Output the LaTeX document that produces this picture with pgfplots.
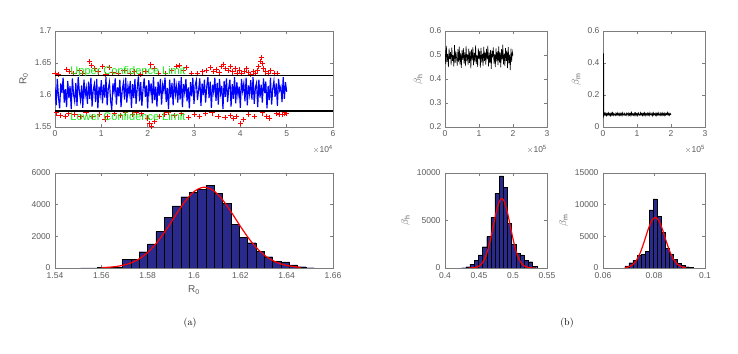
\documentclass[border=0pt]{standalone}
\usepackage{fontspec}
\usepackage{pgfplots}
\pgfplotsset{compat=1.18}
\newfontfamily\arial{Liberation Sans}
\definecolor{barblue}{RGB}{42,42,140}
\definecolor{mgreen}{RGB}{20,235,20}
\definecolor{axgray}{RGB}{125,125,125}
\definecolor{txtgray}{RGB}{90,90,90}
\definecolor{mred}{RGB}{255,0,0}
\pgfplotsset{mat/.style={scale only axis, anchor=south west, clip mode=individual,
  axis line style={axgray, line width=0.5pt}, tick style={axgray, line width=0.5pt},
  major tick length=3pt, tick align=inside,
  tick label style={font=\arial\fontsize{8.5}{9}\selectfont, text=txtgray},
  label style={font=\arial\fontsize{10}{11}\selectfont, text=txtgray},
  scaled ticks=false, /pgf/number format/1000 sep={},
  /pgf/number format/fixed, /pgf/number format/precision=3,
  /pgf/number format/assume math mode=true},
  hist/.style={xticklabel style={yshift=-1.5pt}, yticklabel style={xshift=-1pt}}}
\begin{document}
\begin{tikzpicture}
\useasboundingbox (0,0) rectangle (738pt,353pt);
% ---------- R0 trace
\begin{axis}[mat, at={(55pt,226pt)}, width=278pt, height=96pt,
  xmin=0, xmax=60000, ymin=1.55, ymax=1.7,
  xtick={0,10000,20000,30000,40000,50000,60000}, xticklabels={0,1,2,3,4,5,6},
  ytick={1.55,1.6,1.65,1.7}, ylabel={R\textsubscript{0}}]
\addplot[blue, line width=1.15pt] coordinates {
(0,1.612)(250,1.584)(500,1.625)(750,1.597)(1000,1.579)(1250,1.618)(1500,1.603)(1750,1.627)(2000,1.588)(2250,1.609)
(2500,1.581)(2750,1.622)(3000,1.595)(3250,1.614)(3500,1.578)(3750,1.626)(4000,1.601)(4250,1.590)(4500,1.619)(4750,1.583)
(5000,1.628)(5250,1.606)(5500,1.592)(5750,1.615)(6000,1.580)(6250,1.624)(6500,1.599)(6750,1.611)(7000,1.586)(7250,1.621)
(7500,1.594)(7750,1.627)(8000,1.582)(8250,1.608)(8500,1.617)(8750,1.589)(9000,1.625)(9250,1.579)(9500,1.613)(9750,1.600)
(10000,1.623)(10250,1.587)(10500,1.616)(10750,1.596)(11000,1.628)(11250,1.584)(11500,1.610)(11750,1.620)(12000,1.591)(12250,1.577)
(12500,1.618)(12750,1.605)(13000,1.626)(13250,1.585)(13500,1.612)(13750,1.598)(14000,1.624)(14250,1.581)(14500,1.607)(14750,1.619)
(15000,1.593)(15250,1.627)(15500,1.588)(15750,1.614)(16000,1.602)(16250,1.622)(16500,1.580)(16750,1.617)(17000,1.595)(17250,1.625)
(17500,1.586)(17750,1.611)(18000,1.629)(18250,1.590)(18500,1.620)(18750,1.583)(19000,1.609)(19250,1.626)(19500,1.597)(19750,1.615)
(20000,1.579)(20250,1.623)(20500,1.604)(20750,1.618)(21000,1.587)(21250,1.628)(21500,1.592)(21750,1.613)(22000,1.582)(22250,1.621)
(22500,1.599)(22750,1.625)(23000,1.585)(23250,1.616)(23500,1.606)(23750,1.627)(24000,1.589)(24250,1.611)(24500,1.578)(24750,1.624)
(25000,1.596)(25250,1.619)(25500,1.584)(25750,1.626)(26000,1.601)(26250,1.614)(26500,1.588)(26750,1.622)(27000,1.593)(27250,1.628)
(27500,1.581)(27750,1.617)(28000,1.603)(28250,1.625)(28500,1.590)(28750,1.612)(29000,1.579)(29250,1.620)(29500,1.598)(29750,1.627)
(30000,1.586)(30250,1.615)(30500,1.623)(30750,1.592)(31000,1.608)(31250,1.626)(31500,1.583)(31750,1.618)(32000,1.600)(32250,1.624)
(32500,1.588)(32750,1.613)(33000,1.628)(33250,1.595)(33500,1.621)(33750,1.580)(34000,1.616)(34250,1.604)(34500,1.627)(34750,1.591)
(35000,1.619)(35250,1.585)(35500,1.625)(35750,1.602)(36000,1.614)(36250,1.578)(36500,1.622)(36750,1.597)(37000,1.626)(37250,1.589)
(37500,1.611)(37750,1.624)(38000,1.582)(38250,1.617)(38500,1.594)(38750,1.628)(39000,1.587)(39250,1.620)(39500,1.599)(39750,1.613)
(40000,1.580)(40250,1.625)(40500,1.606)(40750,1.618)(41000,1.590)(41250,1.627)(41500,1.584)(41750,1.615)(42000,1.601)(42250,1.623)
(42500,1.593)(42750,1.628)(43000,1.586)(43250,1.612)(43500,1.619)(43750,1.581)(44000,1.624)(44250,1.596)(44500,1.616)(44750,1.588)
(45000,1.626)(45250,1.603)(45500,1.621)(45750,1.579)(46000,1.614)(46250,1.592)(46500,1.627)(46750,1.585)(47000,1.610)(47250,1.622)
(47500,1.597)(47750,1.618)(48000,1.583)(48250,1.625)(48500,1.607)(48750,1.613)(49000,1.589)(49250,1.628)(49500,1.594)(49750,1.620)
(50000,1.605)};
\addplot[mred, only marks, mark=+, mark size=2.6pt, line width=1pt, mark options={draw=mred, solid}] coordinates {
(0,1.633)(800,1.632)(2500,1.640)(3200,1.637)(4100,1.634)(5300,1.638)(6000,1.633)(7400,1.652)(7900,1.646)(8500,1.641)
(9300,1.636)(10200,1.645)(11000,1.632)(11800,1.643)(12500,1.635)(13700,1.634)(14900,1.638)(16200,1.633)(17100,1.636)(18500,1.632)
(19600,1.637)(20700,1.647)(21400,1.641)(22300,1.634)(23900,1.633)(25100,1.638)(26200,1.644)(26900,1.646)(27800,1.639)(28300,1.643)
(29500,1.634)(30700,1.633)(31800,1.636)(32700,1.638)(33500,1.643)(34200,1.637)(34800,1.640)(35400,1.635)(35900,1.645)(36400,1.648)
(36900,1.641)(37400,1.638)(37900,1.644)(38400,1.636)(38900,1.642)(39300,1.634)(39800,1.639)(40300,1.633)(40800,1.637)(41300,1.641)
(41800,1.635)(42300,1.632)(42800,1.636)(43300,1.634)(43700,1.638)(44000,1.645)(44300,1.652)(44500,1.658)(44700,1.649)(45000,1.641)
(45500,1.636)(46000,1.633)(46600,1.638)(47300,1.634)(48000,1.633)
(300,1.572)(1100,1.568)(2200,1.566)(3000,1.571)(4300,1.569)(5600,1.567)(6700,1.572)(8200,1.566)(9600,1.570)(10800,1.562)
(11300,1.566)(12800,1.571)(14100,1.568)(15300,1.572)(16800,1.569)(17500,1.573)(18700,1.571)(19900,1.564)(20500,1.555)(20900,1.551)
(21500,1.559)(22600,1.567)(23600,1.570)(24400,1.573)(25700,1.568)(27300,1.571)(28800,1.565)(30100,1.570)(31200,1.566)(32500,1.571)
(33900,1.572)(35200,1.567)(36700,1.565)(37800,1.568)(38600,1.563)(39200,1.567)(40100,1.556)(40600,1.562)(41700,1.569)(43100,1.566)
(44800,1.572)(45600,1.566)(46300,1.564)(47800,1.571)(48500,1.569)(49200,1.570)(49600,1.572)(50000,1.571)};
\addplot[black, line width=1.3pt] coordinates {(0,1.63)(60000,1.63)};
\addplot[black, line width=1.3pt] coordinates {(0,1.575)(60000,1.575)};
\node[anchor=west, text=mgreen, font=\arial\fontsize{11}{12}\selectfont, inner sep=0pt] at (axis cs:3300,1.6364) {Upper Confidence Limit};
\node[anchor=west, text=mgreen, font=\arial\fontsize{11}{12}\selectfont, inner sep=0pt] at (axis cs:3300,1.5665) {Lower Confidence Limit};
\node[anchor=north east, text=txtgray, font=\arial\fontsize{8.5}{9}\selectfont, inner sep=0pt, yshift=-18pt] at (rel axis cs:1,0) {$\times$10\textsuperscript{4}};
\end{axis}
% ---------- R0 histogram
\begin{axis}[mat, hist, at={(55pt,85pt)}, width=278pt, height=95pt,
  xmin=1.54, xmax=1.66, ymin=0, ymax=6000,
  xtick={1.54,1.56,1.58,1.6,1.62,1.64,1.66}, ytick={0,2000,4000,6000},
  xlabel={R\textsubscript{0}}]
\addplot[ybar interval, fill=barblue, draw=black, line width=0.3pt] coordinates {
(1.5511,10)(1.5547,15)(1.5583,50)(1.5619,40)(1.5655,60)(1.5691,550)(1.5727,560)(1.5763,1030)(1.5799,1520)(1.5835,2320)
(1.5871,3180)(1.5907,3920)(1.5943,4500)(1.5979,4760)(1.6015,4970)(1.6051,5240)(1.6087,4720)(1.6123,4080)(1.6159,2760)(1.6195,1920)
(1.6231,1600)(1.6267,1070)(1.6303,715)(1.6339,440)(1.6375,380)(1.6411,190)(1.6447,80)(1.6483,20)(1.6519,0)};
\addplot[red, line width=1.2pt, smooth] coordinates {
(1.560,22)(1.564,57)(1.568,132)(1.572,281)(1.576,549)(1.580,983)(1.584,1610)(1.588,2416)(1.592,3322)(1.596,4183)
(1.600,4824)(1.604,5099)(1.608,4931)(1.612,4370)(1.616,3548)(1.620,2638)(1.624,1797)(1.628,1121)(1.632,640)(1.636,335)
(1.640,161)(1.644,71)(1.646,45)};
\end{axis}
% ---------- beta_h trace
\begin{axis}[mat, at={(445pt,226pt)}, width=102pt, height=96pt,
  xmin=0, xmax=300000, ymin=0.2, ymax=0.6,
  xtick={0,100000,200000,300000}, xticklabels={0,1,2,3},
  ytick={0.2,0.3,0.4,0.5,0.6}, ylabel={$\beta$\textsubscript{h}}]
\addplot[black, line width=0.6pt] coordinates {
(0,0.520)(2000,0.462)(4000,0.538)(6000,0.471)(8000,0.505)(10000,0.449)(12000,0.527)(14000,0.483)(16000,0.512)(18000,0.458)
(20000,0.531)(22000,0.476)(24000,0.499)(26000,0.452)(28000,0.541)(30000,0.468)(32000,0.515)(34000,0.487)(36000,0.456)(38000,0.524)
(40000,0.470)(42000,0.535)(44000,0.461)(46000,0.508)(48000,0.446)(50000,0.519)(52000,0.480)(54000,0.529)(56000,0.465)(58000,0.511)
(60000,0.454)(62000,0.537)(64000,0.474)(66000,0.502)(68000,0.459)(70000,0.526)(72000,0.467)(74000,0.516)(76000,0.444)(78000,0.522)
(80000,0.478)(82000,0.533)(84000,0.457)(86000,0.509)(88000,0.472)(90000,0.540)(92000,0.463)(94000,0.498)(96000,0.451)(98000,0.528)
(100000,0.485)(102000,0.517)(104000,0.447)(106000,0.530)(108000,0.469)(110000,0.506)(112000,0.455)(114000,0.534)(116000,0.475)(118000,0.513)
(120000,0.460)(122000,0.525)(124000,0.482)(126000,0.539)(128000,0.453)(130000,0.510)(132000,0.466)(134000,0.521)(136000,0.442)(138000,0.518)
(140000,0.489)(142000,0.532)(144000,0.464)(146000,0.504)(148000,0.450)(150000,0.527)(152000,0.473)(154000,0.515)(156000,0.458)(158000,0.536)
(160000,0.468)(162000,0.511)(164000,0.448)(166000,0.524)(168000,0.479)(170000,0.543)(172000,0.461)(174000,0.507)(176000,0.454)(178000,0.529)
(180000,0.476)(182000,0.519)(184000,0.445)(186000,0.533)(188000,0.466)(190000,0.501)(192000,0.437)(194000,0.526)(196000,0.471)(198000,0.514)
(200000,0.498)};
\node[anchor=north east, text=txtgray, font=\arial\fontsize{8.5}{9}\selectfont, inner sep=0pt, yshift=-18pt] at (rel axis cs:1,0) {$\times$10\textsuperscript{5}};
\end{axis}
% ---------- beta_m trace
\begin{axis}[mat, at={(603pt,226pt)}, width=102pt, height=96pt,
  xmin=0, xmax=300000, ymin=0, ymax=0.6,
  xtick={0,100000,200000,300000}, xticklabels={0,1,2,3},
  ytick={0,0.2,0.4,0.6}, ylabel={$\beta$\textsubscript{m}}]
\addplot[black, line width=0.9pt] coordinates {
(1500,0.460)(2000,0.080)
(2000,0.073)(4000,0.086)(6000,0.075)(8000,0.085)(10000,0.072)(12000,0.084)(14000,0.076)(16000,0.087)(18000,0.074)(20000,0.083)
(22000,0.072)(24000,0.086)(26000,0.075)(28000,0.088)(30000,0.073)(32000,0.084)(34000,0.077)(36000,0.072)(38000,0.085)(40000,0.076)
(42000,0.087)(44000,0.074)(46000,0.083)(48000,0.073)(50000,0.086)(52000,0.075)(54000,0.084)(56000,0.072)(58000,0.088)(60000,0.077)
(62000,0.074)(64000,0.085)(66000,0.076)(68000,0.072)(70000,0.087)(72000,0.083)(74000,0.073)(76000,0.086)(78000,0.075)(80000,0.084)
(82000,0.072)(84000,0.089)(86000,0.076)(88000,0.082)(90000,0.074)(92000,0.085)(94000,0.073)(96000,0.087)(98000,0.075)(100000,0.083)
(102000,0.072)(104000,0.086)(106000,0.077)(108000,0.074)(110000,0.088)(112000,0.076)(114000,0.084)(116000,0.073)(118000,0.085)(120000,0.075)
(122000,0.087)(124000,0.072)(126000,0.083)(128000,0.076)(130000,0.086)(132000,0.074)(134000,0.084)(136000,0.073)(138000,0.088)(140000,0.077)
(142000,0.075)(144000,0.085)(146000,0.072)(148000,0.087)(150000,0.076)(152000,0.083)(154000,0.074)(156000,0.086)(158000,0.073)(160000,0.084)
(162000,0.075)(164000,0.088)(166000,0.077)(168000,0.072)(170000,0.085)(172000,0.076)(174000,0.087)(176000,0.074)(178000,0.083)(180000,0.073)
(182000,0.086)(184000,0.075)(186000,0.084)(188000,0.077)(190000,0.089)(192000,0.076)(194000,0.085)(196000,0.074)(198000,0.083)(200000,0.078)};
\node[anchor=north east, text=txtgray, font=\arial\fontsize{8.5}{9}\selectfont, inner sep=0pt, yshift=-18pt] at (rel axis cs:1,0) {$\times$10\textsuperscript{5}};
\end{axis}
% ---------- beta_h histogram
\begin{axis}[mat, hist, at={(445pt,85pt)}, width=102pt, height=95pt,
  xmin=0.4, xmax=0.55, ymin=0, ymax=10000,
  xtick={0.4,0.45,0.5,0.55}, ytick={0,5000,10000},
  ylabel={$\beta$\textsubscript{h}}]
\addplot[ybar interval, fill=barblue, draw=black, line width=0.3pt] coordinates {
(0.4245,30)(0.4306,140)(0.4367,420)(0.4429,840)(0.4490,1370)(0.4551,2240)(0.4613,3300)(0.4674,5340)(0.4735,7860)(0.4797,9690)
(0.4858,8500)(0.4919,4700)(0.4980,2500)(0.5042,1550)(0.5103,1370)(0.5164,840)(0.5226,660)(0.5287,210)(0.5348,0)};
\addplot[red, line width=1.2pt, smooth] coordinates {
(0.435,4)(0.440,17)(0.445,64)(0.450,201)(0.455,542)(0.460,1247)(0.465,2442)(0.470,4074)(0.475,5792)(0.480,7020)
(0.4835,7300)(0.487,7020)(0.492,5792)(0.497,4074)(0.502,2442)(0.507,1247)(0.512,542)(0.517,201)(0.522,64)(0.527,17)(0.532,4)};
\end{axis}
% ---------- beta_m histogram
\begin{axis}[mat, hist, at={(603pt,85pt)}, width=102pt, height=95pt,
  xmin=0.06, xmax=0.1, ymin=0, ymax=15000,
  xtick={0.06,0.08,0.1}, ytick={0,5000,10000,15000},
  ylabel={$\beta$\textsubscript{m}}]
\addplot[ybar interval, fill=barblue, draw=black, line width=0.3pt] coordinates {
(0.0686,316)(0.07018,840)(0.07175,1260)(0.07333,2050)(0.0749,2160)(0.07648,2680)(0.07806,9160)(0.07963,10900)(0.08121,8210)(0.08278,5630)
(0.08436,3100)(0.08594,2210)(0.08751,1370)(0.08909,740)(0.09066,420)(0.09224,210)(0.09382,80)(0.09539,0)};
\addplot[red, line width=1.2pt, smooth] coordinates {
(0.0685,55)(0.0700,176)(0.0715,484)(0.0730,1141)(0.0745,2300)(0.0760,3968)(0.0775,5858)(0.0790,7400)(0.0805,8000)
(0.0820,7400)(0.0835,5858)(0.0850,3968)(0.0865,2300)(0.0880,1141)(0.0895,484)(0.0910,176)(0.0925,55)};
\end{axis}
\node at (190pt,30pt) {(a)};
\node at (567pt,30pt) {(b)};
\end{tikzpicture}
\end{document}
